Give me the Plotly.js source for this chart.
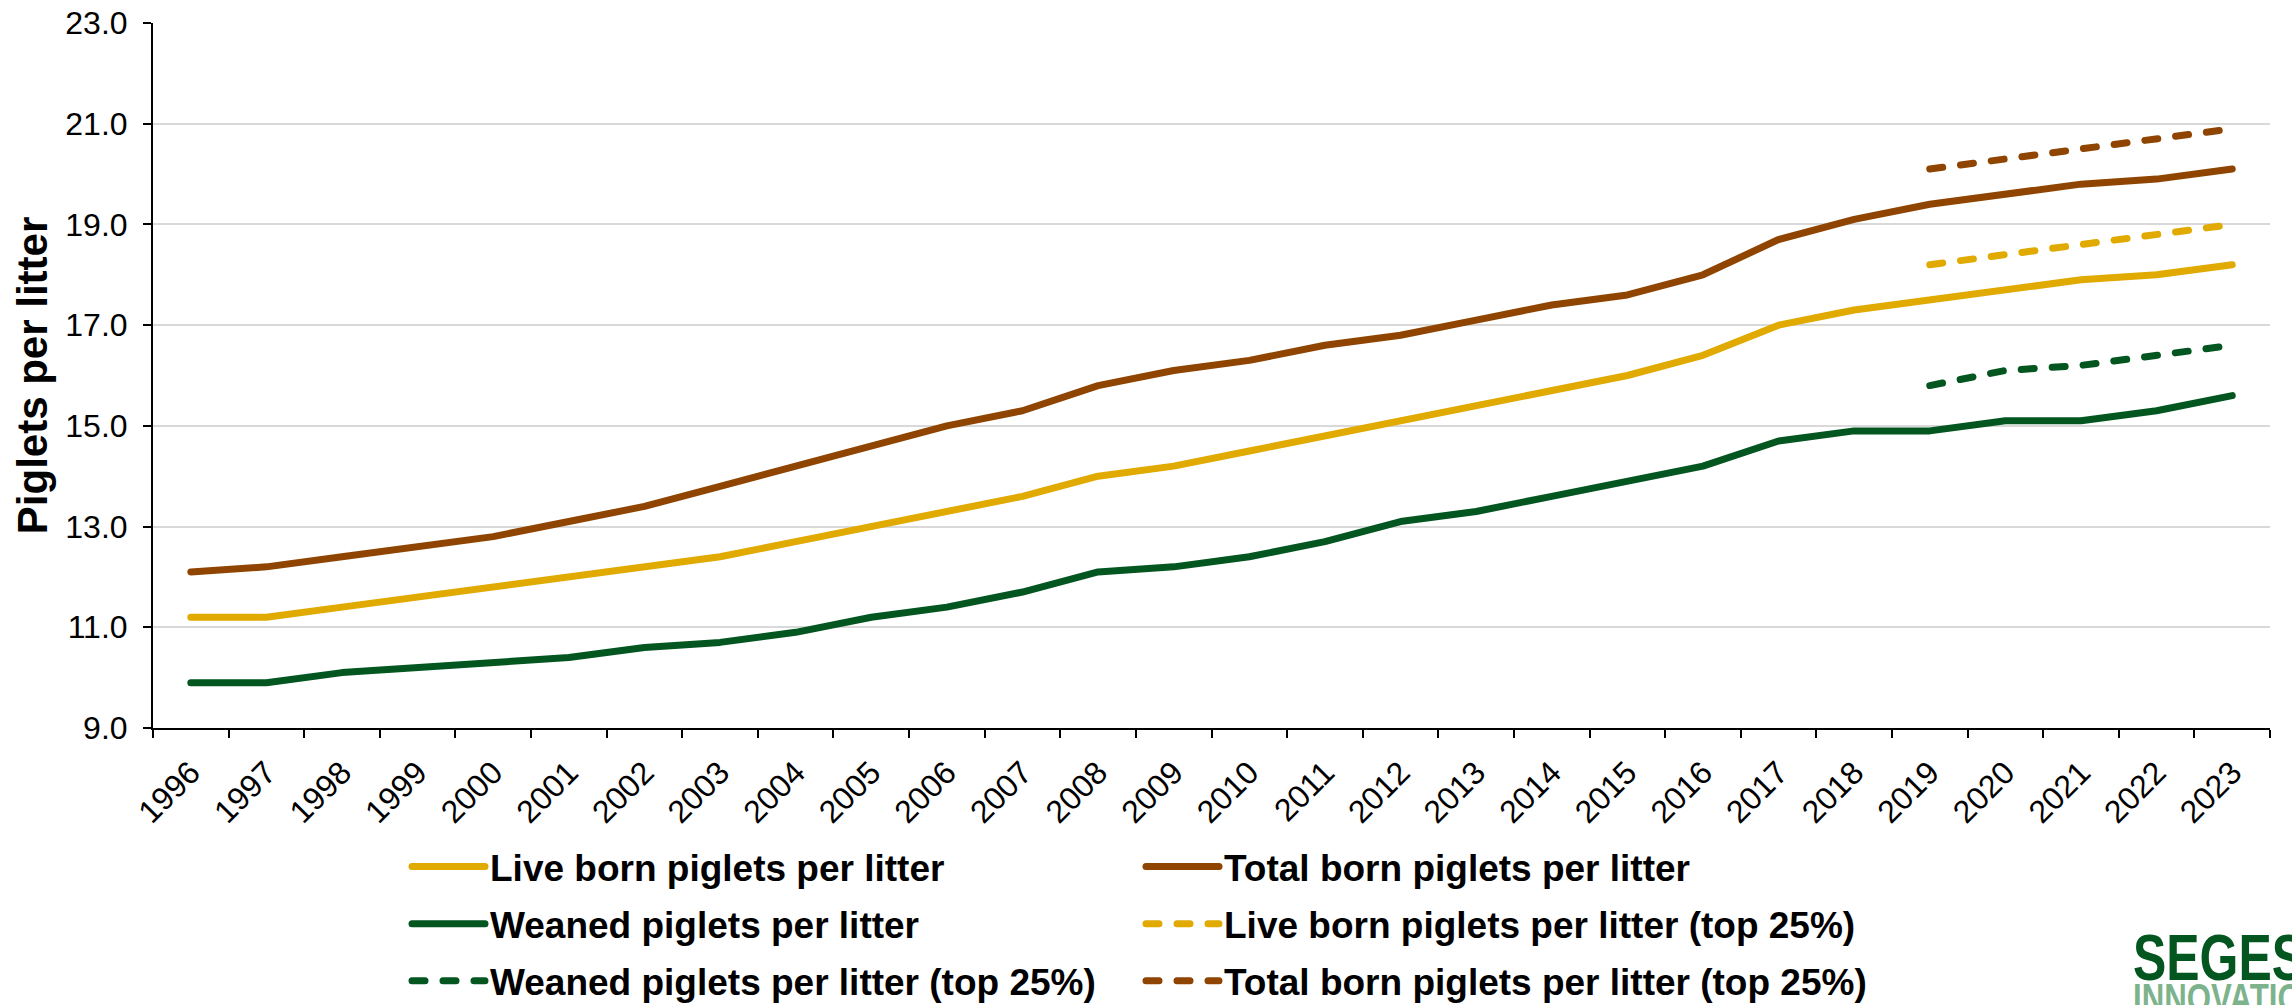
<!DOCTYPE html>
<html>
<head>
<meta charset="utf-8">
<script src="https://cdn.plot.ly/plotly-3.0.1.min.js"></script>
<style>
  html, body { margin: 0; padding: 0; background: #ffffff; }
  #chart { width: 2292px; height: 1005px; }
  /* rounded ends on the series lines and on the legend swatches */
  #chart path.js-line { stroke-linecap: round; stroke-linejoin: round; }
  /* condensed lettering for the logo wordmark */
  #chart .annotation-text { transform-box: fill-box; transform-origin: 0% 50%; transform: scaleX(0.78); }
</style>
</head>
<body>
<div id="chart"></div>
<script>
// Production years
const years = ['1996','1997','1998','1999','2000','2001','2002','2003','2004','2005',
               '2006','2007','2008','2009','2010','2011','2012','2013','2014','2015',
               '2016','2017','2018','2019','2020','2021','2022','2023'];

// National averages, piglets per litter
const liveBorn = [11.2, 11.2, 11.4, 11.6, 11.8, 12.0, 12.2, 12.4, 12.7, 13.0,
                  13.3, 13.6, 14.0, 14.2, 14.5, 14.8, 15.1, 15.4, 15.7, 16.0,
                  16.4, 17.0, 17.3, 17.5, 17.7, 17.9, 18.0, 18.2];
const totalBorn = [12.1, 12.2, 12.4, 12.6, 12.8, 13.1, 13.4, 13.8, 14.2, 14.6,
                   15.0, 15.3, 15.8, 16.1, 16.3, 16.6, 16.8, 17.1, 17.4, 17.6,
                   18.0, 18.7, 19.1, 19.4, 19.6, 19.8, 19.9, 20.1];
const weaned    = [9.9, 9.9, 10.1, 10.2, 10.3, 10.4, 10.6, 10.7, 10.9, 11.2,
                   11.4, 11.7, 12.1, 12.2, 12.4, 12.7, 13.1, 13.3, 13.6, 13.9,
                   14.2, 14.7, 14.9, 14.9, 15.1, 15.1, 15.3, 15.6];

// Top 25% herds, reported from 2019
const topYears     = ['2019','2020','2021','2022','2023'];
const liveBornTop  = [18.2, 18.4, 18.6, 18.8, 19.0];
const totalBornTop = [20.1, 20.3, 20.5, 20.7, 20.9];
const weanedTop    = [15.8, 16.1, 16.2, 16.4, 16.6];

const yTicks = [9, 11, 13, 15, 17, 19, 21, 23];

const YELLOW = '#E0AA00';
const BROWN  = '#8F4400';
const GREEN  = '#03561F';
const LW = 7;
const DASH = '13px,18px';

function series(name, x, y, color, dash, legend, group) {
  return {
    type: 'scatter', mode: 'lines', name: name, x: x, y: y,
    line: { color: color, width: LW, dash: dash || 'solid', shape: 'linear' },
    legend: legend, legendgroup: group, hoverinfo: 'x+y+name'
  };
}

const traces = [
  series('Live born piglets per litter', years, liveBorn, YELLOW, null, 'legend', 'a'),
  series('Weaned piglets per litter', years, weaned, GREEN, null, 'legend', 'b'),
  series('Weaned piglets per litter (top 25%)', topYears, weanedTop, GREEN, DASH, 'legend', 'c'),
  series('Total born piglets per litter', years, totalBorn, BROWN, null, 'legend2', 'd'),
  series('Live born piglets per litter (top 25%)', topYears, liveBornTop, YELLOW, DASH, 'legend2', 'e'),
  series('Total born piglets per litter (top 25%)', topYears, totalBornTop, BROWN, DASH, 'legend2', 'f')
];

const W = 2292, H = 1005;
const M = { l: 153, r: 22, t: 23, b: 277, autoexpand: false };
const plotW = W - M.l - M.r, plotH = H - M.t - M.b;
const px2x = px => (px - M.l) / plotW;
const px2y = py => (H - M.b - py) / plotH;

const FONT = 'Liberation Sans, Arial, sans-serif';
const legendFont = { family: FONT, size: 37, color: '#000000', weight: 'bold' };

const legendBase = {
  xanchor: 'left', yanchor: 'top',
  y: px2y(836),
  orientation: 'v',
  font: legendFont,
  itemwidth: 73,
  bgcolor: 'rgba(0,0,0,0)', borderwidth: 0,
  traceorder: 'grouped', tracegroupgap: 6
};

const layout = {
  width: W, height: H,
  margin: M,
  paper_bgcolor: '#ffffff', plot_bgcolor: '#ffffff',
  showlegend: true,
  font: { family: FONT, color: '#000000' },
  xaxis: {
    type: 'category',
    categoryorder: 'array', categoryarray: years,
    range: [-0.5, years.length - 0.5],
    tickson: 'boundaries',
    ticks: 'outside', ticklen: 8, tickwidth: 2, tickcolor: '#000000',
    tickangle: -45,
    ticklabelstandoff: 11,
    tickfont: { family: FONT, size: 32, color: '#000000' },
    showline: true, linecolor: '#000000', linewidth: 2,
    showgrid: false, zeroline: false,
    automargin: false,
    fixedrange: true
  },
  yaxis: {
    range: [9, 23],
    tickvals: yTicks,
    tickformat: '.1f',
    ticks: 'outside', ticklen: 8, tickwidth: 2, tickcolor: '#000000',
    ticklabelstandoff: 9,
    tickfont: { family: FONT, size: 32, color: '#000000' },
    showline: true, linecolor: '#000000', linewidth: 2,
    showgrid: true, gridcolor: '#D9D9D9', gridwidth: 2,
    zeroline: false,
    automargin: false,
    title: { text: 'Piglets per litter', font: { family: FONT, size: 42, color: '#000000', weight: 'bold' }, standoff: 5 },
    fixedrange: true
  },
  legend: Object.assign({}, legendBase, { x: px2x(407) }),
  legend2: Object.assign({}, legendBase, { x: px2x(1141) }),
  annotations: [
    {
      xref: 'paper', yref: 'paper',
      x: px2x(2131), y: px2y(958), xanchor: 'left', yanchor: 'middle',
      text: 'SEGES', showarrow: false,
      font: { family: FONT, size: 64, color: '#03561F', weight: 'bold' }
    },
    {
      xref: 'paper', yref: 'paper',
      x: px2x(2131), y: px2y(998), xanchor: 'left', yanchor: 'middle',
      text: 'INNOVATION', showarrow: false,
      font: { family: FONT, size: 40, color: '#7DB38C', weight: 'bold' }
    }
  ]
};

Plotly.newPlot('chart', traces, layout, { displayModeBar: false, staticPlot: true });
</script>
</body>
</html>
